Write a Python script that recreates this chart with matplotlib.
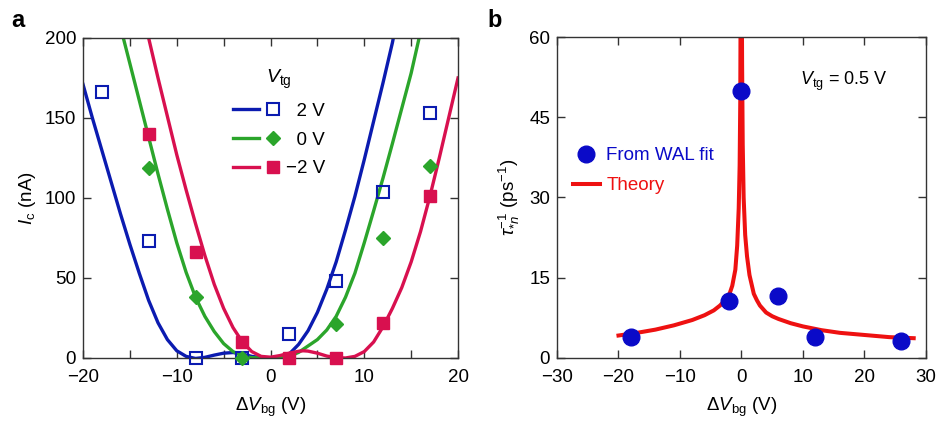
import matplotlib
matplotlib.use("Agg")
import matplotlib.pyplot as plt
from matplotlib.legend_handler import HandlerTuple
from matplotlib.ticker import MultipleLocator

plt.rcParams["font.family"] = ["Liberation Sans", "DejaVu Sans"]
plt.rcParams["mathtext.fontset"] = "custom"
plt.rcParams["mathtext.rm"] = "Liberation Sans"
plt.rcParams["mathtext.it"] = "Liberation Sans:italic"
plt.rcParams["mathtext.bf"] = "Liberation Sans:bold"
plt.rcParams["font.size"] = 13.5

# ---- panel a: critical current vs back gate, three top gate voltages
vbg_pts = [-18, -13, -8, -3, 2, 7, 12, 17]
ic_2v = [166, 73, 0, 0, 15, 48, 104, 153]
ic_0v = [None, 119, 38, 0, None, 21, 75, 120]
ic_m2v = [None, 140, 66, 10, 0, 0, 22, 101]

# fitted curves
fit_2v_x = [-20, -19, -18, -17, -16, -15, -14, -13, -12, -11, -10, -9, -8, -7,
            -6, -5, -4, -3, -2, -1, 0, 1, 2, 3, 4, 5, 6, 7, 8, 9, 10, 11, 12,
            13, 13.1]
fit_2v_y = [171, 150, 130, 110, 90, 71, 53, 36, 22, 11.5, 4.5, 1, -0.3, 0.4,
            1.8, 3, 3.4, 2.5, 1, 0.2, 0, 0.3, 2.5, 8.5, 17, 28.5, 43, 60, 80,
            101, 124, 148, 172, 197, 200]
fit_0v_x = [-15.7, -15, -14, -13, -12, -11, -10, -9, -8, -7, -6, -5, -4, -3,
            -2, -1, 0, 1, 2, 3, 4, 5, 6, 7, 8, 9, 10, 11, 12, 13, 14, 15, 15.85]
fit_0v_y = [200, 184, 161, 138, 115, 93, 72, 53.5, 38, 26, 16.5, 9, 4, 1.2,
            0.2, 0, 0, 0, 1, 3.5, 7.5, 11.5, 17.5, 26, 38, 53, 72, 92, 112.5,
            134, 156, 178, 200]
fit_m2v_x = [-13, -12, -11, -10, -9, -8, -7, -6, -5, -4, -3, -2, -1, 0, 1, 2,
             3, 3.5, 4, 5, 6, 7, 8, 9, 10, 11, 12, 13, 14, 15, 16, 17, 18, 19,
             20]
fit_m2v_y = [200, 175, 151, 127, 105, 84, 64, 46, 31, 19, 10, 4, 1, 0.5,
             1.5, 3, 4.2, 4.5, 4.3, 3, 1.2, 0.2, 0, 1, 4, 10, 19.5, 31, 44,
             60, 79, 101, 125, 150, 175]

# ---- panel b: dephasing rate
wal_x = [-18, -2, 0, 6, 12, 26]
wal_y = [4.0, 10.7, 50, 11.6, 3.85, 3.1]
theory_x = [-20, -17, -14, -11, -8, -6, -4.5, -3.5, -2.5, -2, -1.5, -1, -0.7,
            -0.45, -0.3, -0.2, -0.1, 0.0, 0.1, 0.2, 0.35, 0.6, 0.9, 1.3, 2,
            2.5, 3, 4, 5, 6, 8, 10, 13, 16, 20, 24, 28]
theory_y = [4.2, 4.7, 5.3, 6.1, 7.1, 8.0, 8.9, 9.8, 11.0, 11.8, 13.5, 16.5, 21,
            28, 36, 48, 80, 80, 55, 40, 30, 23, 19, 15.5, 12, 10.8, 9.8, 8.5,
            7.8, 7.3, 6.5, 5.9, 5.2, 4.7, 4.3, 3.9, 3.7]

blue = "#0b1bb0"
green = "#2ba52b"
crimson = "#d8104f"

fig = plt.figure(figsize=(9.38, 4.22), dpi=100)
ax1 = fig.add_axes([0.0885, 0.1517, 0.3998, 0.7583])
ax2 = fig.add_axes([0.5938, 0.1517, 0.3934, 0.7606])

for ax in (ax1, ax2):
    ax.tick_params(which="both", direction="in", top=True, right=True,
                   length=5.5, width=1, color="#333333")
    ax.tick_params(axis="x", pad=8)
    ax.tick_params(axis="y", pad=5)
    for s in ax.spines.values():
        s.set_color("#333333")
        s.set_linewidth(1)

lw = 2.4
l_2v, = ax1.plot(fit_2v_x, fit_2v_y, color=blue, lw=lw)
l_0v, = ax1.plot(fit_0v_x, fit_0v_y, color=green, lw=lw)
l_m2v, = ax1.plot(fit_m2v_x, fit_m2v_y, color=crimson, lw=lw)


def pts(xs, ys):
    keep = [(x, y) for x, y in zip(xs, ys) if y is not None]
    return [k[0] for k in keep], [k[1] for k in keep]


x, y = pts(vbg_pts, ic_2v)
m_2v, = ax1.plot(x, y, ls="none", marker="s", ms=9, mfc="none", mec=blue,
                 mew=1.5, clip_on=False, zorder=4)
x, y = pts(vbg_pts, ic_0v)
m_0v, = ax1.plot(x, y, ls="none", marker="D", ms=7, color=green,
                 clip_on=False, zorder=4)
x, y = pts(vbg_pts, ic_m2v)
m_m2v, = ax1.plot(x, y, ls="none", marker="s", ms=9, color=crimson,
                  clip_on=False, zorder=4)

ax1.set_xlim(-20, 20)
ax1.set_ylim(0, 200)
ax1.xaxis.set_major_locator(MultipleLocator(10))
ax1.xaxis.set_minor_locator(MultipleLocator(5))
ax1.yaxis.set_major_locator(MultipleLocator(50))
ax1.set_xlabel(r"$\Delta V_{\rm bg}$ (V)", labelpad=7)
ax1.set_ylabel(r"$I_{\rm c}$ (nA)", labelpad=5)

ax1.legend([(l_2v, m_2v), (l_0v, m_0v), (l_m2v, m_m2v)],
           ["  2 V", "  0 V", "\u22122 V"],
           handler_map={tuple: HandlerTuple(ndivide=None, pad=0.05)},
           handlelength=2.83, handletextpad=0.0, labelspacing=0.62,
           title=r"$V_{\rm tg}$", title_fontsize=14, frameon=False,
           loc="upper left", bbox_to_anchor=(0.38, 0.93),
           borderaxespad=0)

# panel b
th, = ax2.plot(theory_x, theory_y, color="#ee1111", lw=2.9)
wal, = ax2.plot(wal_x, wal_y, ls="none", marker="o", ms=12, color="#0a0ac8",
                clip_on=False, zorder=4)
ax2.set_xlim(-30, 30)
ax2.set_ylim(0, 60)
ax2.xaxis.set_major_locator(MultipleLocator(10))
ax2.yaxis.set_major_locator(MultipleLocator(15))
ax2.set_xlabel(r"$\Delta V_{\rm bg}$ (V)", labelpad=7)
ax2.set_ylabel(r"$\tau_{*n}^{-1}$ (ps$^{-1}$)", labelpad=5)
ax2.legend([wal, th], ["From WAL fit", "Theory"], labelcolor="linecolor",
           handlelength=1.44, handletextpad=0.36, labelspacing=0.68,
           frameon=False, loc="upper left", bbox_to_anchor=(0.022, 0.68),
           borderaxespad=0)
ax2.text(9.5, 51, r"$V_{\rm tg}$ = 0.5 V", fontsize=13)

fig.text(0.012, 0.935, "a", fontsize=17, fontweight="bold")
fig.text(0.52, 0.935, "b", fontsize=17, fontweight="bold")

fig.savefig("out.png", dpi=100)
